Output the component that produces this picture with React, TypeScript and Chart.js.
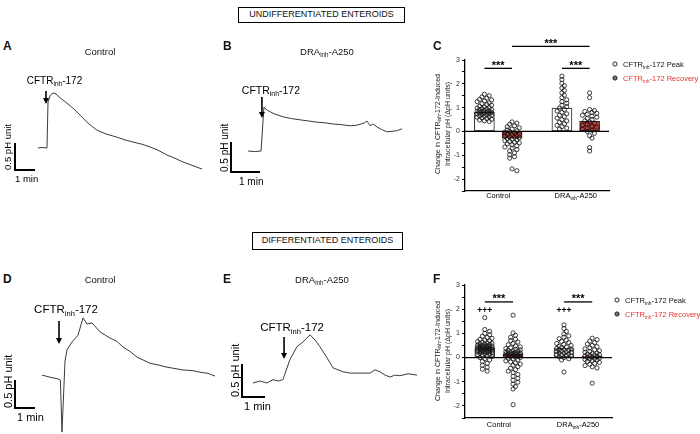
import React, { useRef, useEffect } from "react";
import Chart from "chart.js/auto";

const FONT = "'Liberation Sans', Arial, Helvetica, sans-serif";
const RED = "#e3342c";

// ---------- pHi traces: minutes from start, change in pH from baseline ----------
const traceA_time = [0, 0.2, 0.45, 0.5, 0.62, 0.75, 0.9, 1.1, 1.45, 1.8, 2.1, 2.5, 2.95, 3.4, 3.95, 4.35, 4.75, 5.2, 5.6, 6.0, 6.45, 6.85, 7.25, 7.7, 8.2];
const traceA_pH = [0, 0.01, 0, 0.85, 0.98, 1.02, 1.0, 0.93, 0.83, 0.72, 0.61, 0.46, 0.33, 0.26, 0.2, 0.15, 0.11, 0.07, 0.02, -0.04, -0.13, -0.19, -0.26, -0.32, -0.39];

const traceB_time = [0, 0.25, 0.45, 0.55, 0.66, 0.9, 1.21, 1.5, 1.79, 2.1, 2.38, 2.65, 2.93, 3.2, 3.52, 3.75, 3.9, 4.02, 4.1, 4.16, 4.21, 4.31, 4.45, 4.6, 4.79, 5.0, 5.15, 5.31];
const traceB_pH = [0, -0.01, 0, 0.73, 0.68, 0.62, 0.57, 0.54, 0.52, 0.5, 0.48, 0.47, 0.45, 0.44, 0.42, 0.43, 0.45, 0.47, 0.5, 0.46, 0.42, 0.45, 0.4, 0.36, 0.32, 0.33, 0.34, 0.37];

const traceD_time = [0, 0.4, 0.8, 0.92, 1.0, 1.15, 1.25, 1.5, 1.8, 2.05, 2.25, 2.5, 2.9, 3.4, 3.75, 4.05, 4.4, 4.75, 5.4, 5.8, 6.25, 7.05, 7.5, 7.9, 8.3, 8.65];
const traceD_pH = [0, -0.04, -0.07, -0.09, -1.02, 0.25, 0.45, 0.59, 0.71, 1.02, 0.91, 0.93, 0.77, 0.66, 0.6, 0.5, 0.42, 0.32, 0.21, 0.18, 0.14, 0.09, 0.08, 0.05, 0.03, -0.02];

const traceE_time = [0, 0.3, 0.6, 0.87, 1.1, 1.3, 1.6, 1.91, 2.17, 2.48, 2.7, 2.91, 3.22, 3.48, 3.91, 4.22, 4.65, 5.09, 5.3, 5.52, 5.74, 5.96, 6.17, 6.39, 6.74, 7.13];
const traceE_pH = [0, 0.03, 0, 0.05, 0.03, 0.05, 0.35, 0.55, 0.62, 0.73, 0.65, 0.55, 0.38, 0.23, 0.17, 0.15, 0.15, 0.15, 0.2, 0.17, 0.12, 0.09, 0.12, 0.11, 0.14, 0.12];

// minute at which CFTRinh-172 was added
const inhTimeA = 0.4;
const inhTimeB = 0.48;
const inhTimeD = 0.85;
const inhTimeE = 1.35;

// ---------- dot plots (ΔpH units) ----------
// undifferentiated (C)
const undiffCtrlPeak = [1.56, 1.5, 1.45, 1.4, 1.35, 1.32, 1.28, 1.25, 1.2, 1.17, 1.13, 1.1, 1.06, 1.03, 1.0, 0.98, 0.96, 0.94, 0.92, 0.9, 0.88, 0.86, 0.85, 0.83, 0.82, 0.8, 0.79, 0.77, 0.76, 0.74, 0.72, 0.7, 0.68, 0.66, 0.64, 0.62, 0.6, 0.57, 0.54, 0.51, 0.48, 0.45, 0.42];
const undiffCtrlRecovery = [0.4, 0.35, 0.3, 0.24, 0.2, 0.15, 0.1, 0.06, 0.03, 0.0, -0.03, -0.06, -0.09, -0.12, -0.14, -0.17, -0.2, -0.22, -0.24, -0.27, -0.3, -0.33, -0.36, -0.39, -0.42, -0.45, -0.48, -0.52, -0.56, -0.6, -0.65, -0.7, -0.76, -0.82, -0.9, -0.98, -1.06, -1.12, -1.57, -1.65];
const undiffDraPeak = [2.32, 2.18, 2.02, 1.92, 1.82, 1.72, 1.62, 1.52, 1.42, 1.33, 1.25, 1.18, 1.1, 1.04, 0.98, 0.92, 0.86, 0.8, 0.74, 0.68, 0.62, 0.56, 0.5, 0.44, 0.38, 0.32, 0.26, 0.2, 0.14, 0.1];
const undiffDraRecovery = [1.62, 1.42, 0.92, 0.88, 0.84, 0.8, 0.76, 0.72, 0.68, 0.64, 0.6, 0.55, 0.5, 0.45, 0.4, 0.35, 0.3, 0.26, 0.22, 0.18, 0.14, 0.1, 0.05, 0.0, -0.08, -0.18, -0.28, -0.68, -0.82];
const undiffMeans = [0.8, -0.28, 0.98, 0.42];

// differentiated (F)
const diffCtrlPeak = [1.65, 1.16, 1.08, 1.0, 0.94, 0.88, 0.83, 0.79, 0.75, 0.72, 0.69, 0.66, 0.63, 0.61, 0.59, 0.57, 0.55, 0.53, 0.52, 0.5, 0.49, 0.48, 0.47, 0.46, 0.45, 0.44, 0.43, 0.42, 0.41, 0.4, 0.39, 0.38, 0.37, 0.36, 0.35, 0.34, 0.33, 0.32, 0.31, 0.3, 0.29, 0.28, 0.27, 0.26, 0.25, 0.24, 0.23, 0.22, 0.21, 0.2, 0.18, 0.16, 0.14, 0.12, 0.1, 0.07, 0.04, 0.0, -0.05, -0.1, -0.16, -0.24, -0.32, -0.4, -0.48, -0.56];
const diffCtrlRecovery = [1.75, 1.02, 0.92, 0.84, 0.76, 0.7, 0.64, 0.58, 0.53, 0.48, 0.44, 0.4, 0.37, 0.34, 0.32, 0.3, 0.28, 0.26, 0.24, 0.22, 0.2, 0.19, 0.18, 0.17, 0.16, 0.15, 0.14, 0.13, 0.12, 0.11, 0.1, 0.08, 0.06, 0.04, 0.02, 0.0, -0.03, -0.06, -0.1, -0.14, -0.18, -0.22, -0.27, -0.32, -0.38, -0.44, -0.5, -0.56, -0.62, -0.7, -0.78, -0.86, -0.94, -1.02, -1.1, -1.2, -1.3, -1.95];
const diffDraPeak = [1.35, 1.2, 1.08, 0.98, 0.9, 0.84, 0.78, 0.72, 0.67, 0.62, 0.58, 0.54, 0.5, 0.47, 0.44, 0.41, 0.38, 0.35, 0.33, 0.31, 0.29, 0.27, 0.25, 0.23, 0.21, 0.19, 0.17, 0.15, 0.13, 0.11, 0.09, 0.06, 0.03, 0.0, -0.05, -0.1, -0.6];
const diffDraRecovery = [0.8, 0.74, 0.68, 0.62, 0.56, 0.5, 0.45, 0.4, 0.36, 0.32, 0.28, 0.25, 0.22, 0.19, 0.16, 0.14, 0.12, 0.1, 0.08, 0.06, 0.04, 0.02, 0.0, -0.02, -0.04, -0.06, -0.08, -0.1, -0.13, -0.16, -0.2, -0.24, -0.28, -0.33, -0.38, -0.43, -1.06];
const diffMeans = [0.4, 0.15, 0.37, 0.06];

const yTicksMin = -2.5;
const yTicksMax = 3;

// column positions on the x scale: ctrl peak, ctrl recovery, DRA peak, DRA recovery
const colX = [0.7, 1.7, 3.5, 4.5];

type Part = [string, boolean?];
const CFTR: Part[] = [["CFTR"], ["inh", true], ["-172"]];
const DRA: Part[] = [["DRA"], ["inh", true], ["-A250"]];

// text with subscripts; y is the middle of the capitals
function drawRich(ctx: CanvasRenderingContext2D, parts: Part[], x: number, y: number, size: number, align = "center", color = "#000") {
  const sub = size * 0.66;
  const widths = parts.map(([s, isSub]) => {
    ctx.font = `${isSub ? sub : size}px ${FONT}`;
    return ctx.measureText(s).width;
  });
  const total = widths.reduce((a, b) => a + b, 0);
  let cx = align === "center" ? x - total / 2 : x;
  const base = y + size * 0.36;
  ctx.fillStyle = color;
  ctx.textAlign = "left";
  ctx.textBaseline = "alphabetic";
  parts.forEach(([s, isSub], i) => {
    ctx.font = `${isSub ? sub : size}px ${FONT}`;
    ctx.fillText(s, cx, isSub ? base + size * 0.25 : base);
    cx += widths[i];
  });
}

type TraceProps = {
  box: number[]; // left, top, width, height
  origin: number[]; // pixel of t = 0, ΔpH = 0
  pxPerMin: number;
  pxPerPH: number;
  time: number[];
  pH: number[];
  inhTime: number;
  arrowY: number[];
  labelY: number;
  labelDx: number;
  bar: number[];
  minDx: number;
  fontSize: number;
};

function TracePanel(p: TraceProps) {
  const chartRef = useRef<HTMLCanvasElement | null>(null);
  const chartInstanceRef = useRef<Chart | null>(null);

  useEffect(() => {
    if (!chartRef.current) return;
    const [L, T, W, H] = p.box;
    const xmin = -(p.origin[0] - L) / p.pxPerMin;
    const ymax = (p.origin[1] - T) / p.pxPerPH;

    const deco = {
      id: "traceDeco",
      afterDraw(chart: any) {
        const { ctx } = chart;
        const { x, y } = chart.scales;
        ctx.save();
        // scale bar
        const bx = p.bar[0] - L;
        const by = p.bar[1] - T;
        const w = x.getPixelForValue(1) - x.getPixelForValue(0);
        const h = y.getPixelForValue(0) - y.getPixelForValue(0.5);
        ctx.strokeStyle = "#000";
        ctx.lineWidth = 2;
        ctx.beginPath();
        ctx.moveTo(bx, by - h);
        ctx.lineTo(bx, by);
        ctx.lineTo(bx + w, by);
        ctx.stroke();
        drawRich(ctx, [["1 min"]], bx + p.minDx, by + 9, p.fontSize, "left");
        ctx.save();
        ctx.translate(bx - 7, by);
        ctx.rotate(-Math.PI / 2);
        drawRich(ctx, [["0.5 pH unit"]], 0, 0, p.fontSize, "left");
        ctx.restore();
        // inhibitor arrow
        const ax = x.getPixelForValue(p.inhTime);
        const ay0 = p.arrowY[0] - T;
        const ay1 = p.arrowY[1] - T;
        ctx.fillStyle = "#000";
        ctx.lineWidth = 1.6;
        ctx.beginPath();
        ctx.moveTo(ax, ay0);
        ctx.lineTo(ax, ay1 - 5);
        ctx.stroke();
        ctx.beginPath();
        ctx.moveTo(ax - 3, ay1 - 6);
        ctx.lineTo(ax + 3, ay1 - 6);
        ctx.lineTo(ax, ay1);
        ctx.closePath();
        ctx.fill();
        drawRich(ctx, CFTR, ax + p.labelDx, p.labelY - T, p.fontSize + 0.5);
        ctx.restore();
      },
    };

    chartInstanceRef.current = new Chart(chartRef.current, {
      type: "line",
      data: {
        datasets: [
          {
            data: p.time.map((t, i) => ({ x: t, y: p.pH[i] })),
            borderColor: "#3a3a3a",
            borderWidth: 1,
            pointRadius: 0,
            tension: 0,
          },
        ],
      },
      options: {
        responsive: false,
        animation: false,
        events: [],
        layout: { padding: 0 },
        plugins: { legend: { display: false }, tooltip: { enabled: false } },
        scales: {
          x: { type: "linear", display: false, min: xmin, max: xmin + W / p.pxPerMin },
          y: { type: "linear", display: false, min: ymax - H / p.pxPerPH, max: ymax },
        },
      },
      plugins: [deco],
    } as any);

    return () => {
      if (chartInstanceRef.current) {
        chartInstanceRef.current.destroy();
        chartInstanceRef.current = null;
      }
    };
  }, []);

  const [L, T, W, H] = p.box;
  return (
    <canvas
      ref={chartRef}
      width={W}
      height={H}
      style={{ position: "absolute", left: L, top: T, width: W, height: H }}
    />
  );
}

// beeswarm layout of one column (horizontal spread only)
function swarm(values: number[], cx: number, pxX: number, pxY: number) {
  const diam = 4.8;
  const minDist = diam * 0.68;
  const step = diam * 0.5;
  const maxK = 2 * Math.floor(9.5 / step);
  const placed: { x: number; y: number }[] = [];
  const out: { x: number; y: number }[] = new Array(values.length);
  const order = values.map((_, i) => i).sort((a, b) => values[b] - values[a]);
  for (const i of order) {
    const py = values[i] * pxY;
    let best = 0;
    let bestD = -1;
    for (let k = 0; k <= maxK; k++) {
      const off = (k % 2 ? 1 : -1) * Math.ceil(k / 2) * step;
      let d = Infinity;
      for (const q of placed) d = Math.min(d, Math.hypot(q.x - off, q.y - py));
      if (d >= minDist) {
        best = off;
        break;
      }
      if (d > bestD) {
        bestD = d;
        best = off;
      }
    }
    placed.push({ x: best, y: py });
    out[i] = { x: cx + best / pxX, y: values[i] };
  }
  return out;
}

type DotProps = {
  box: number[];
  area: number[]; // left, top, right, bottom on page
  cols: number[][];
  means: number[];
  brackets: number[][]; // from col, to col, y value
  plusY: number | null;
  legend: number[]; // x, y1, y2
  titleY: number;
  catY: number;
};

function DotPanel(p: DotProps) {
  const chartRef = useRef<HTMLCanvasElement | null>(null);
  const chartInstanceRef = useRef<Chart | null>(null);

  useEffect(() => {
    if (!chartRef.current) return;
    const [L, T, W, H] = p.box;
    const [aL, aT, aR, aB] = p.area;
    const xMax = 5.2;
    const pxX = (aR - aL) / xMax;
    const pxY = (aB - aT) / (yTicksMax - yTicksMin);

    const points = p.cols.map((vals, i) => swarm(vals, colX[i], pxX, pxY));

    const deco = {
      id: "dotDeco",
      afterDatasetDraw(chart: any, args: any) {
        if (args.index !== 0) return;
        const { ctx, chartArea } = chart;
        const y0 = chart.scales.y.getPixelForValue(0);
        ctx.save();
        ctx.strokeStyle = "#000";
        ctx.lineWidth = 1.3;
        ctx.beginPath();
        ctx.moveTo(chartArea.left, y0);
        ctx.lineTo(chartArea.right, y0);
        ctx.stroke();
        ctx.restore();
      },
      afterDraw(chart: any) {
        const { ctx } = chart;
        const { x, y } = chart.scales;
        ctx.save();
        // significance brackets
        ctx.strokeStyle = "#000";
        ctx.lineWidth = 1.3;
        p.brackets.forEach(([a, b, v]) => {
          const x1 = x.getPixelForValue(colX[a]);
          const x2 = x.getPixelForValue(colX[b]);
          const yy = y.getPixelForValue(v);
          ctx.beginPath();
          ctx.moveTo(x1, yy);
          ctx.lineTo(x2, yy);
          ctx.stroke();
          ctx.font = `bold 11px ${FONT}`;
          ctx.fillStyle = "#000";
          ctx.textAlign = "center";
          ctx.textBaseline = "alphabetic";
          ctx.fillText("***", (x1 + x2) / 2, yy + 0.5);
        });
        if (p.plusY !== null) {
          ctx.font = `bold 8.5px ${FONT}`;
          ctx.textAlign = "center";
          ctx.textBaseline = "middle";
          [0, 2].forEach((c) => ctx.fillText("+++", x.getPixelForValue(colX[c]), y.getPixelForValue(p.plusY)));
        }
        // category labels
        drawRich(ctx, [["Control"]], x.getPixelForValue((colX[0] + colX[1]) / 2), p.catY - T, 7.5);
        drawRich(ctx, DRA, x.getPixelForValue((colX[2] + colX[3]) / 2), p.catY - T, 7.5);
        // y title
        ctx.save();
        ctx.translate(437 - L, p.titleY - T);
        ctx.rotate(-Math.PI / 2);
        drawRich(ctx, [["Change in CFTR"], ["inh", true], ["-172-Induced"]], 0, 0, 7, "center", "#222");
        drawRich(ctx, [["Intracellular pH (ΔpH units)"]], 0, 10, 7, "center", "#222");
        ctx.restore();
        // legend
        const [lx, ly1, ly2] = p.legend;
        [
          [ly1, "#fff", CFTR.concat([[" Peak"]]), "#111"],
          [ly2, "#777", CFTR.concat([[" Recovery"]]), RED],
        ].forEach(([ly, fill, parts, col]: any) => {
          ctx.beginPath();
          ctx.arc(lx - L, ly - T, 2.1, 0, Math.PI * 2);
          ctx.fillStyle = fill;
          ctx.fill();
          ctx.lineWidth = 0.9;
          ctx.strokeStyle = "#111";
          ctx.stroke();
          drawRich(ctx, parts, lx - L + 8, ly - T, 7.5, "left", col);
        });
        ctx.restore();
      },
    };

    const pointStyle = {
      type: "scatter",
      pointRadius: 2.1,
      pointBorderWidth: 0.8,
      pointBorderColor: "#111",
      pointBackgroundColor: "rgba(255,255,255,0)",
      order: 1,
    };

    chartInstanceRef.current = new Chart(chartRef.current, {
      type: "scatter",
      data: {
        datasets: [
          {
            type: "bar",
            data: p.means.map((m, i) => ({ x: colX[i], y: m })),
            backgroundColor: ["#ffffff", "#c43c36", "#ffffff", "#c43c36"],
            borderColor: "#222",
            borderWidth: 1,
            borderSkipped: false,
            barThickness: 20,
            grouped: false,
            order: 5,
          },
          ...points.map((pts) => ({ ...pointStyle, data: pts })),
        ],
      },
      options: {
        responsive: false,
        animation: false,
        events: [],
        layout: { padding: { left: 0, top: aT - T, right: L + W - aR, bottom: 0 } },
        plugins: { legend: { display: false }, tooltip: { enabled: false } },
        scales: {
          x: {
            type: "linear",
            min: 0,
            max: xMax,
            offset: false,
            ticks: { display: false },
            grid: { display: false, drawTicks: false },
            border: { display: true, color: "#000", width: 1.3 },
            afterFit: (s: any) => {
              s.height = T + H - aB;
            },
          },
          y: {
            type: "linear",
            min: yTicksMin,
            max: yTicksMax,
            ticks: {
              stepSize: 0.5,
              autoSkip: false,
              callback: (v: number) => (Number.isInteger(v) ? String(v) : ""),
              font: { size: 7, family: FONT },
              color: "#333",
              padding: 2,
            },
            grid: { drawOnChartArea: false, drawTicks: true, tickLength: 3, color: "#000", lineWidth: 1 },
            border: { display: true, color: "#000", width: 1.3 },
            afterFit: (s: any) => {
              s.width = aL - L;
            },
          },
        },
      },
      plugins: [deco],
    } as any);

    return () => {
      if (chartInstanceRef.current) {
        chartInstanceRef.current.destroy();
        chartInstanceRef.current = null;
      }
    };
  }, []);

  const [L, T, W, H] = p.box;
  return (
    <canvas
      ref={chartRef}
      width={W}
      height={H}
      style={{ position: "absolute", left: L, top: T, width: W, height: H }}
    />
  );
}

const Sub = ({ children }: any) => (
  <span style={{ fontSize: "0.66em", position: "relative", top: "0.3em" }}>{children}</span>
);

function Text({ x, y, size, bold, center, children }: any) {
  const style: any = {
    position: "absolute",
    top: y - size * 0.49,
    fontSize: size,
    lineHeight: `${size}px`,
    fontWeight: bold ? "bold" : "normal",
    whiteSpace: "nowrap",
  };
  if (center) {
    style.left = x - 100;
    style.width = 200;
    style.textAlign = "center";
  } else {
    style.left = x;
  }
  return <div style={style}>{children}</div>;
}

function Header({ left, top, width, height, children }: any) {
  return (
    <div
      style={{
        position: "absolute",
        left,
        top,
        width,
        height,
        border: "1.2px solid #000",
        boxSizing: "border-box",
        fontSize: 9,
        lineHeight: `${height - 2.4}px`,
        textAlign: "center",
        whiteSpace: "nowrap",
      }}
    >
      {children}
    </div>
  );
}

export default function App() {
  return (
    <div
      style={{
        position: "fixed",
        left: 0,
        top: 0,
        width: 700,
        height: 434,
        background: "#fff",
        fontFamily: FONT,
        color: "#111",
        overflow: "hidden",
      }}
    >
      <TracePanel
        box={[0, 60, 215, 135]}
        origin={[38, 148]}
        pxPerMin={20}
        pxPerPH={54}
        time={traceA_time}
        pH={traceA_pH}
        inhTime={inhTimeA}
        arrowY={[91, 104]}
        labelY={80}
        labelDx={8.5}
        bar={[15, 170]}
        minDx={0}
        fontSize={9.5}
      />
      <TracePanel
        box={[215, 60, 205, 135]}
        origin={[248, 151]}
        pxPerMin={29}
        pxPerPH={60}
        time={traceB_time}
        pH={traceB_pH}
        inhTime={inhTimeB}
        arrowY={[97, 118]}
        labelY={90}
        labelDx={9}
        bar={[231, 172]}
        minDx={8}
        fontSize={10}
      />
      <TracePanel
        box={[0, 290, 215, 144]}
        origin={[42, 375]}
        pxPerMin={20}
        pxPerPH={56}
        time={traceD_time}
        pH={traceD_pH}
        inhTime={inhTimeD}
        arrowY={[321, 344]}
        labelY={309}
        labelDx={7}
        bar={[15, 408]}
        minDx={2}
        fontSize={11}
      />
      <TracePanel
        box={[215, 290, 205, 144]}
        origin={[253, 383]}
        pxPerMin={23}
        pxPerPH={66}
        time={traceE_time}
        pH={traceE_pH}
        inhTime={inhTimeE}
        arrowY={[337, 359]}
        labelY={327}
        labelDx={8}
        bar={[242, 397]}
        minDx={2}
        fontSize={11}
      />
      <DotPanel
        box={[420, 30, 280, 180]}
        area={[465, 60, 609, 191]}
        cols={[undiffCtrlPeak, undiffCtrlRecovery, undiffDraPeak, undiffDraRecovery]}
        means={undiffMeans}
        brackets={[
          [0, 1, 2.65],
          [2, 3, 2.65],
          [1, 3, 3.57],
        ]}
        plusY={null}
        legend={[615, 64, 78]}
        titleY={124}
        catY={195.5}
      />
      <DotPanel
        box={[420, 255, 280, 179]}
        area={[465, 285, 612, 418]}
        cols={[diffCtrlPeak, diffCtrlRecovery, diffDraPeak, diffDraRecovery]}
        means={diffMeans}
        brackets={[
          [0, 1, 2.3],
          [2, 3, 2.3],
        ]}
        plusY={1.92}
        legend={[617, 300, 314]}
        titleY={351}
        catY={424}
      />

      <Header left={238} top={7} width={167} height={16}>
        UNDIFFERENTIATED ENTEROIDS
      </Header>
      <Header left={252} top={232} width={151} height={18}>
        DIFFERENTIATED ENTEROIDS
      </Header>

      <Text x={3} y={46} size={12} bold>A</Text>
      <Text x={223} y={46} size={12} bold>B</Text>
      <Text x={433} y={46} size={12} bold>C</Text>
      <Text x={3} y={279} size={12} bold>D</Text>
      <Text x={223} y={279} size={12} bold>E</Text>
      <Text x={433} y={279} size={12} bold>F</Text>

      <Text x={100} y={52} size={9.5} center>Control</Text>
      <Text x={327} y={52} size={9.5} center>
        DRA<Sub>inh</Sub>-A250
      </Text>
      <Text x={100} y={280} size={9.5} center>Control</Text>
      <Text x={322} y={280} size={9.5} center>
        DRA<Sub>inh</Sub>-A250
      </Text>
    </div>
  );
}
